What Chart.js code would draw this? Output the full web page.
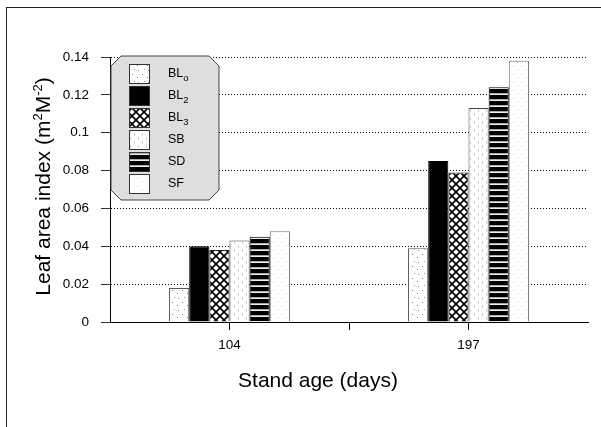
<!DOCTYPE html>
<html>
<head>
<meta charset="utf-8">
<script src="https://cdn.jsdelivr.net/npm/chart.js@4.4.1/dist/chart.umd.min.js"></script>
<style>
    html, body { margin: 0; padding: 0; background: #fff; }
    #caixa { position: relative; width: 601px; height: 427px; overflow: hidden; }
    #moldura { position: absolute; left: 6px; top: 7px; width: 640px; height: 460px; border: 1px solid #222; }
    canvas { position: absolute; left: 0; top: 0; }
</style>
</head>
<body>
<div id="caixa">
    <div id="moldura"></div>
    <canvas id="grafico" width="601" height="427"></canvas>
</div>
<script>
// Dados -------------------------------------------------
const idades = ['104', '197'];
const nomes_series = ['BL', 'BL', 'BL', 'SB', 'SD', 'SF'];
const subscritos = ['o', '2', '3', '', '', ''];

const valores_bl0 = [0.018, 0.039];
const valores_bl2 = [0.040, 0.085];
const valores_bl3 = [0.038, 0.079];
const valores_sb = [0.043, 0.113];
const valores_sd = [0.045, 0.124];
const valores_sf = [0.048, 0.138];

const titulo_x = 'Stand age (days)';
const titulo_y = [['Leaf area index (m', false], ['2', true], ['M', false], ['-2', true], [')', false]];

const fonte = '"Liberation Sans", Arial, sans-serif';
Chart.defaults.font.family = fonte;
Chart.defaults.color = '#000';

// Padroes de preenchimento -------------------------------
function criar_padrao(largura, altura, desenhar) {
    const c = document.createElement('canvas');
    c.width = largura;
    c.height = altura;
    const ctx = c.getContext('2d');
    desenhar(ctx);
    return ctx.createPattern(c, 'repeat');
}

const padrao_pontos = criar_padrao(10, 12, function (ctx) {
    ctx.fillStyle = '#fff';
    ctx.fillRect(0, 0, 10, 12);
    ctx.fillStyle = '#777';
    ctx.fillRect(2, 2, 1, 1);
    ctx.fillRect(7, 5, 1, 1);
    ctx.fillStyle = '#999';
    ctx.fillRect(4, 9, 1, 1);
    ctx.fillRect(8, 10, 1, 1);
});

const padrao_xadrez = criar_padrao(8, 8, function (ctx) {
    ctx.fillStyle = '#fff';
    ctx.fillRect(0, 0, 8, 8);
    ctx.strokeStyle = '#000';
    ctx.lineWidth = 1.7;
    ctx.beginPath();
    ctx.moveTo(-1, -1); ctx.lineTo(9, 9);
    ctx.moveTo(9, -1); ctx.lineTo(-1, 9);
    ctx.stroke();
});

const padrao_vertical = criar_padrao(8, 8, function (ctx) {
    ctx.fillStyle = '#fff';
    ctx.fillRect(0, 0, 8, 8);
    ctx.fillStyle = '#d0d0d0';
    ctx.fillRect(2, 1, 1, 3);
    ctx.fillRect(6, 5, 1, 3);
});

const padrao_listras = criar_padrao(4, 6, function (ctx) {
    ctx.fillStyle = '#000';
    ctx.fillRect(0, 0, 4, 6);
    ctx.fillStyle = '#aaa';
    ctx.fillRect(0, 3, 4, 1);
    ctx.fillStyle = '#eee';
    ctx.fillRect(0, 4, 4, 1);
});

const padrao_claro = criar_padrao(8, 8, function (ctx) {
    ctx.fillStyle = '#fff';
    ctx.fillRect(0, 0, 8, 8);
    ctx.fillStyle = '#d8d8d8';
    ctx.fillRect(1, 2, 1, 1);
    ctx.fillRect(5, 6, 1, 1);
});

const lista_valores = [valores_bl0, valores_bl2, valores_bl3, valores_sb, valores_sd, valores_sf];
const lista_padroes = [padrao_pontos, '#000', padrao_xadrez, padrao_vertical, padrao_listras, padrao_claro];
const lista_bordas = ['#555', '#000', '#222', '#444', '#000', '#777'];

const conjuntos = [];
for (let i = 0; i < lista_valores.length; i++) {
    conjuntos.push({
        label: nomes_series[i] + subscritos[i],
        data: lista_valores[i],
        backgroundColor: lista_padroes[i],
        borderColor: lista_bordas[i],
        borderWidth: 1,
        categoryPercentage: 0.506,
        barPercentage: 1
    });
}

// Plugins auxiliares -------------------------------------
const plugin_legenda = {
    id: 'legenda_octogono',
    afterDatasetsDraw(chart) {
        const ctx = chart.ctx;
        const area = chart.chartArea;
        const esq = area.left + 1, topo = area.top - 1, larg = 108, alt = 144, corte = 10;

        ctx.save();
        ctx.beginPath();
        ctx.moveTo(esq + corte, topo);
        ctx.lineTo(esq + larg - corte, topo);
        ctx.lineTo(esq + larg, topo + corte);
        ctx.lineTo(esq + larg, topo + alt - corte);
        ctx.lineTo(esq + larg - corte, topo + alt);
        ctx.lineTo(esq + corte, topo + alt);
        ctx.lineTo(esq, topo + alt - corte);
        ctx.lineTo(esq, topo + corte);
        ctx.closePath();
        ctx.fillStyle = '#dedede';
        ctx.fill();
        ctx.strokeStyle = '#444';
        ctx.lineWidth = 1;
        ctx.stroke();

        chart.data.datasets.forEach(function (ds, i) {
            const y = topo + 8 + i * 22;
            ctx.fillStyle = ds.backgroundColor;
            ctx.fillRect(esq + 18, y, 21, 20);
            ctx.strokeStyle = '#333';
            ctx.strokeRect(esq + 18.5, y + 0.5, 20, 19);

            ctx.fillStyle = '#000';
            ctx.textBaseline = 'middle';
            ctx.textAlign = 'left';
            ctx.font = '12.5px ' + fonte;
            ctx.fillText(nomes_series[i], esq + 57, y + 10);
            if (subscritos[i]) {
                const w = ctx.measureText(nomes_series[i]).width;
                ctx.font = '9.5px ' + fonte;
                ctx.fillText(subscritos[i], esq + 57 + w, y + 14);
            }
        });
        ctx.restore();
    }
};

const plugin_extras = {
    id: 'extras',
    afterDraw(chart) {
        const ctx = chart.ctx;
        const area = chart.chartArea;
        const eixo_x = chart.scales.x;

        // traço entre as duas categorias
        const meio = Math.round((eixo_x.getPixelForTick(0) + eixo_x.getPixelForTick(1)) / 2) + 0.5;
        ctx.save();
        ctx.strokeStyle = '#000';
        ctx.lineWidth = 1;
        ctx.beginPath();
        ctx.moveTo(meio, area.bottom);
        ctx.lineTo(meio, area.bottom + 8);
        ctx.stroke();

        // titulo do eixo x
        ctx.fillStyle = '#000';
        ctx.font = '21px ' + fonte;
        ctx.textAlign = 'center';
        ctx.textBaseline = 'alphabetic';
        ctx.fillText(titulo_x, area.left + 208, area.bottom + 65);

        // titulo do eixo y, com sobrescritos
        let total = 0;
        titulo_y.forEach(function (p) {
            ctx.font = (p[1] ? '13px ' : '21px ') + fonte;
            total += ctx.measureText(p[0]).width;
        });
        ctx.translate(50, (area.top + area.bottom) / 2 - 3);
        ctx.rotate(-Math.PI / 2);
        ctx.textAlign = 'left';
        let pos = -total / 2;
        titulo_y.forEach(function (p) {
            ctx.font = (p[1] ? '13px ' : '21px ') + fonte;
            ctx.fillText(p[0], pos, p[1] ? -8 : 0);
            pos += ctx.measureText(p[0]).width;
        });
        ctx.restore();
    }
};

new Chart(document.getElementById('grafico'), {
    type: 'bar',
    data: {
        labels: idades,
        datasets: conjuntos
    },
    options: {
        responsive: false,
        animation: false,
        layout: {
            padding: { top: 57, right: 13, left: 0, bottom: 0 }
        },
        plugins: {
            legend: { display: false },
            tooltip: { enabled: false }
        },
        scales: {
            x: {
                grid: {
                    display: true,
                    drawOnChartArea: false,
                    offset: false,
                    color: '#000',
                    tickColor: '#000',
                    tickLength: 8
                },
                border: { color: '#000', width: 1 },
                ticks: {
                    padding: 7,
                    font: { size: 13.5 }
                },
                afterFit: function (s) { s.height = 105; }
            },
            y: {
                min: 0,
                max: 0.14,
                ticks: {
                    stepSize: 0.02,
                    padding: 12,
                    font: { size: 13.5 },
                    callback: function (v) { return String(Number(v.toFixed(2))); }
                },
                grid: {
                    color: '#000',
                    lineWidth: 1,
                    tickLength: 9,
                    tickColor: '#333',
                    tickBorderDash: []
                },
                border: { color: '#000', width: 1, dash: [1, 2] },
                afterFit: function (s) { s.width = 110; }
            }
        }
    },
    plugins: [plugin_legenda, plugin_extras]
});
</script>
</body>
</html>
